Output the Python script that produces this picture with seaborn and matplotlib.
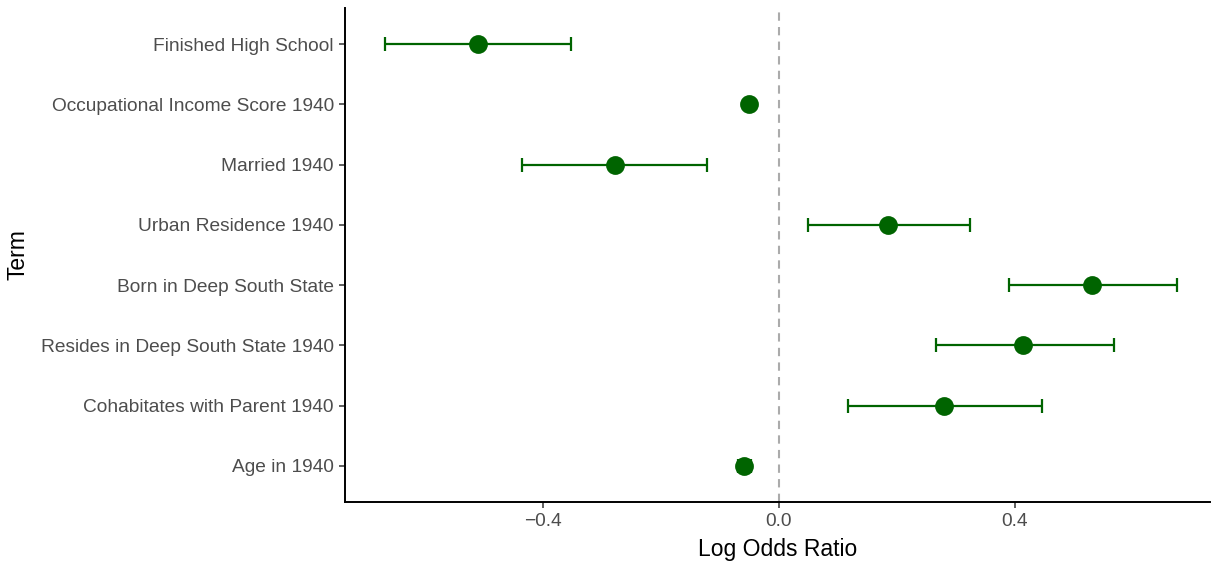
import pandas as pd
import matplotlib.pyplot as plt
import seaborn as sns

# terms listed top to bottom
terms = ['Finished High School', 'Occupational Income Score 1940', 'Married 1940',
         'Urban Residence 1940', 'Born in Deep South State',
         'Resides in Deep South State 1940', 'Cohabitates with Parent 1940', 'Age in 1940']
estimate = [-0.510, -0.050, -0.278, 0.186, 0.532, 0.415, 0.281, -0.059]
conf_low = [-0.668, -0.052, -0.436, 0.049, 0.390, 0.266, 0.117, -0.070]
conf_high = [-0.353, -0.048, -0.122, 0.324, 0.675, 0.568, 0.446, -0.048]

df = pd.DataFrame({'term': terms, 'estimate': estimate,
                   'conf_low': conf_low, 'conf_high': conf_high})

green = '#006400'

sns.set_style('white')
plt.rcParams['font.family'] = ['Liberation Sans', 'DejaVu Sans']

fig = plt.figure(figsize=(12.12, 5.63), dpi=100)
ax = fig.add_axes([0.2847, 0.1083, 0.7133, 0.8775])

#zero reference line
ax.axvline(0, color='#ABABAB', linestyle=(0, (4, 3)), linewidth=1.5, zorder=0)

#points
sns.pointplot(data=df, x='estimate', y='term', order=terms, orient='h',
              linestyle='none', color=green, markersize=11.5, errorbar=None, ax=ax, zorder=3)

#confidence intervals
ypos = range(len(terms))
ax.errorbar(df['estimate'], list(ypos),
            xerr=[df['estimate'] - df['conf_low'], df['conf_high'] - df['estimate']],
            fmt='none', ecolor=green, elinewidth=1.6, capsize=5, capthick=1.6, zorder=2)

ax.set_xlim(-0.736, 0.731)
ax.set_ylim(len(terms) - 0.4, -0.6)
ax.set_xticks([-0.4, 0.0, 0.4])
ax.set_xticklabels(['\u22120.4', '0.0', '0.4'])

ax.set_xlabel('Log Odds Ratio', fontsize=16.5, color='black', labelpad=6)
ax.set_ylabel('Term', fontsize=16.5, color='black', labelpad=8)
ax.tick_params(axis='both', labelsize=13.8, labelcolor='#4D4D4D', color='#333333',
               length=4, width=1.1, direction='out', left=True, bottom=True, pad=4)

sns.despine(ax=ax, top=True, right=True)
for s in ['left', 'bottom']:
    ax.spines[s].set_color('black')
    ax.spines[s].set_linewidth(1.4)

fig.savefig('out.png', dpi=100)
